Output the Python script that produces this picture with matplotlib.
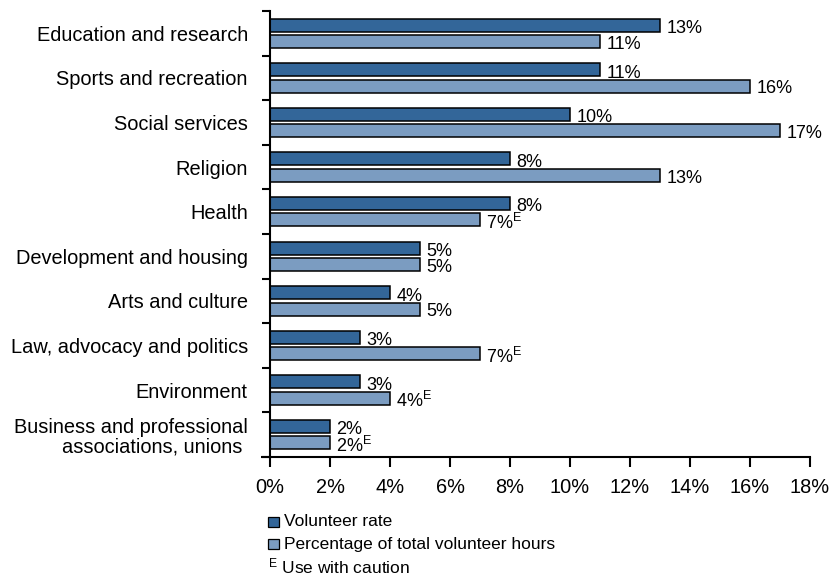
import matplotlib
matplotlib.use("Agg")
import matplotlib.pyplot as plt
from matplotlib.patches import Rectangle
import numpy as np

plt.rcParams['font.family'] = ['Liberation Sans', 'DejaVu Sans']
plt.rcParams['mathtext.fontset'] = 'custom'
plt.rcParams['mathtext.rm'] = 'Liberation Sans'
plt.rcParams['mathtext.it'] = 'Liberation Sans'

categories = [
    "Education and research",
    "Sports and recreation",
    "Social services",
    "Religion",
    "Health",
    "Development and housing",
    "Arts and culture",
    "Law, advocacy and politics",
    "Environment",
    "Business and professional\nassociations, unions ",
]
volunteer_rate = [13, 11, 10, 8, 8, 5, 4, 3, 3, 2]
share_of_hours = [11, 16, 17, 13, 7, 5, 5, 7, 4, 2]
hours_caution = [False, False, False, False, True, False, False, True, True, True]
xticks = [0, 2, 4, 6, 8, 10, 12, 14, 16, 18]

dark = "#336699"
light = "#7b9cc1"

fig = plt.figure(figsize=(8.3, 5.76), dpi=100)
ax = fig.add_axes([270 / 830, 1 - 457 / 576, 540 / 830, 446 / 576])

n = len(categories)
y = np.arange(n)
h = 0.29
off = 0.185
ax.barh(y - off, volunteer_rate, height=h, color=dark, edgecolor="black", linewidth=1.1)
ax.barh(y + off, share_of_hours, height=h, color=light, edgecolor="black", linewidth=1.1)

val_fs = 13
for i in range(n):
    ax.annotate(f"{volunteer_rate[i]}%", (volunteer_rate[i], y[i] - off),
                xytext=(4.5, -2.5), textcoords="offset points",
                ha="left", va="center", fontsize=val_fs)
    lbl = f"{share_of_hours[i]}%"
    if hours_caution[i]:
        lbl += r"$^{\mathrm{E}}$"
    ax.annotate(lbl, (share_of_hours[i], y[i] + off),
                xytext=(4.5, -2.0), textcoords="offset points",
                ha="left", va="center", fontsize=val_fs)

ax.set_ylim(n - 0.5, -0.5)
ax.set_xlim(0, 18)
ax.set_yticks(np.arange(n + 1) - 0.5)
ax.set_yticklabels([])
ax.set_yticks(y, minor=True)
ax.set_yticklabels(categories, minor=True, fontsize=14.4, ha="right",
                   multialignment="right", linespacing=1.05)
for lab in ax.get_yticklabels(minor=True):
    lab.set_va("center_baseline")
ax.tick_params(axis="y", which="minor", length=0, pad=16)
ax.tick_params(axis="y", which="major", length=6, width=1.5, direction="out")
ax.set_xticks(xticks)
ax.set_xticklabels([f"{t}%" for t in xticks], fontsize=14.4)
ax.tick_params(axis="x", length=7, width=1.5, pad=8)

for s in ["top", "right"]:
    ax.spines[s].set_visible(False)
for s in ["left", "bottom"]:
    ax.spines[s].set_linewidth(1.5)
# short extension of the value axis to the left of the category axis
ax.plot([-0.3, 0], [n - 0.5, n - 0.5], color="black", linewidth=1.5,
        clip_on=False, solid_capstyle="butt")

# legend drawn beneath the axis
lx = 268 / 830
box_w = 11 / 830
box_h = 10 / 576
leg_fs = 12.5
entries = [("Volunteer rate", dark, 522), ("Percentage of total volunteer hours", light, 544)]
for text, col, py in entries:
    fig.patches.append(Rectangle((lx, 1 - (py + 5) / 576), box_w, box_h,
                                 transform=fig.transFigure, facecolor=col,
                                 edgecolor="black", linewidth=0.9))
    fig.text(lx + 16 / 830, 1 - py / 576, text, fontsize=leg_fs, va="center", ha="left")
fig.text(lx, 1 - 566 / 576, r"$^{\mathrm{E}}$ Use with caution", fontsize=leg_fs,
         va="center", ha="left")

fig.savefig("out.png", dpi=100)
